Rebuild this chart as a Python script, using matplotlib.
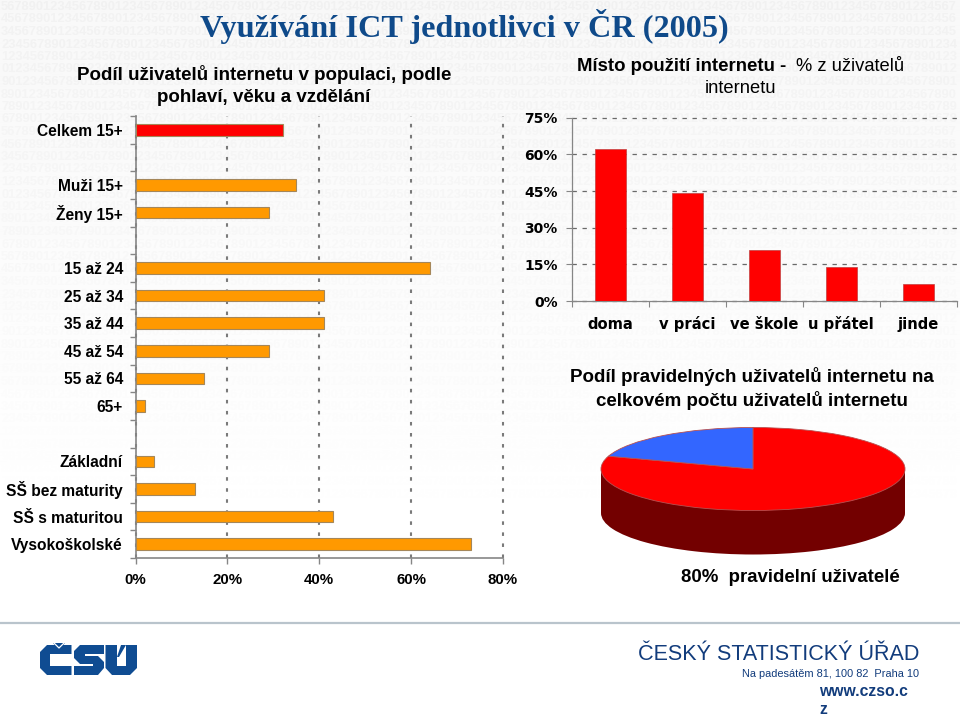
"""Využívání ICT jednotlivci v ČR (2005) - slide with two bars, one column chart and a 3D-looking pie."""
import numpy as np
import matplotlib
matplotlib.use("Agg")
import matplotlib.pyplot as plt
from matplotlib.patches import Polygon, Rectangle

W, H = 960, 717
SANS = "Liberation Sans"
SERIF = "Liberation Serif"
WIDE = "DejaVu Sans"
ORANGE = "#FF9900"
RED = "#FF0000"
DARK_RED = "#730000"
BLUE = "#3366FF"
NAVY = "#0F4A8A"
AXIS_GRAY = "#868686"

# blank labels are the empty rows between the groups
left_labels = ["Celkem 15+", "", "Muži 15+", "Ženy 15+", "", "15 až 24", "25 až 34", "35 až 44",
               "45 až 54", "55 až 64", "65+", "", "Základní", "SŠ bez maturity", "SŠ s maturitou",
               "Vysokoškolské"]
left_values = [32, np.nan, 35, 29, np.nan, 64, 41, 41, 29, 15, 2, np.nan, 4, 13, 43, 73]
left_ticks = [0, 20, 40, 60, 80]

place_labels = ["doma", "v práci", "ve škole", "u přátel", "jinde"]
place_values = [62, 44, 21, 14, 7]
place_ticks = [0, 15, 30, 45, 60, 75]

pie_values = [80, 20]


def px_axes(fig, x0, y0, x1, y1, **kw):
    """Axes from pixel box, y counted from the top like in the picture."""
    return fig.add_axes([x0 / W, 1 - y1 / H, (x1 - x0) / W, (y1 - y0) / H], **kw)


fig = plt.figure(figsize=(W / 100, H / 100), dpi=100, facecolor="white")

# full-slide layer in pixel coords for background, texts and logo
bg = px_axes(fig, 0, 0, W, H)
bg.axis("off")

shade = np.linspace(0.972, 1.0, 256).reshape(-1, 1)
bg.imshow(shade, extent=(0, W, 540, 0), cmap="gray", vmin=0, vmax=1, aspect="auto", zorder=0)
bg.set_xlim(0, W)
bg.set_ylim(H, 0)

digits = "1234567890" * 16
for i in range(42):
    y = 7 + i * 12.5
    start = (4 - i) % 10
    fade = max(0.0, 1 - y / 520)
    grey = 1 - 0.055 * fade
    bg.text(1, y, digits[start:start + 133], color=(grey, grey, grey), fontsize=9.3,
            family=SANS, fontweight="bold", va="center", ha="left", zorder=1)

# titles
bg.text(464, 26, "Využívání ICT jednotlivci v ČR (2005)", color=NAVY, family=SERIF,
        fontweight="bold", fontsize=23.2, ha="center", va="center", zorder=3)
bg.text(264, 74, "Podíl uživatelů internetu v populaci, podle", family=SANS, fontweight="bold",
        fontsize=13.5, ha="center", va="center", zorder=3)
bg.text(264, 97, "pohlaví, věku a vzdělání", family=SANS, fontweight="bold",
        fontsize=13.5, ha="center", va="center", zorder=3)
# first line is half bold, half regular
bg.text(577, 71, "Místo použití internetu -", family=SANS, fontweight="bold",
        fontsize=13.45, ha="left", va="baseline", zorder=3)
bg.text(904, 71, "% z uživatelů", family=SANS, fontsize=13.2, ha="right", va="baseline", zorder=3)
bg.text(740, 93, "internetu", family=SANS, fontsize=13.2, ha="center", va="baseline", zorder=3)
bg.text(751.5, 377, "Podíl pravidelných uživatelů internetu na", family=SANS, fontweight="bold",
        fontsize=13.5, ha="center", va="center", zorder=3)
bg.text(751.5, 400, "celkovém počtu uživatelů internetu", family=SANS, fontweight="bold",
        fontsize=13.5, ha="center", va="center", zorder=3)
bg.text(790.5, 577, "80%  pravidelní uživatelé", family=SANS, fontweight="bold",
        fontsize=13.4, ha="center", va="center", zorder=3)

# footer
bg.plot([0, W], [623, 623], color="#B9C4CC", lw=1.6, zorder=2)
bg.text(919, 654, "ČESKÝ STATISTICKÝ ÚŘAD", color="#123C7C", family=SANS, fontsize=15.5,
        ha="right", va="center", zorder=3)
bg.text(919, 674, "Na padesátěm 81, 100 82  Praha 10", color="#123C7C", family=SANS, fontsize=7.9,
        ha="right", va="center", zorder=3)
bg.text(819, 692, "www.czso.c", color="#123C7C", family=SANS, fontweight="bold", fontsize=11.3,
        ha="left", va="center", zorder=3)
bg.text(819, 709, "z", color="#123C7C", family=SANS, fontweight="bold", fontsize=11.3,
        ha="left", va="center", zorder=3)

# logo
logo_c = [(47, 645), (71.5, 645), (71.5, 654), (50, 654), (50, 666), (71.5, 666), (71.5, 675),
          (47, 675), (40, 668), (40, 652)]
logo_s = [(80, 645), (104, 645), (104, 654), (85, 654), (85, 656), (98, 656), (104, 662),
          (104, 668), (98, 675), (74, 675), (74, 666), (93, 666), (93, 664), (80, 664),
          (74, 658), (74, 651)]
logo_u = [(105.5, 645), (117, 645), (117, 666), (126, 666), (126, 645), (137, 645), (137, 668),
          (130, 675), (112, 675), (105.5, 668)]
logo_caron = [(53, 643), (65, 643), (59, 650)]
logo_acute = [(117, 657), (121, 645), (126, 645), (119, 657)]
for shape in (logo_c, logo_s, logo_u, logo_caron, logo_acute):
    bg.add_patch(Polygon(shape, closed=True, fc="#0F4C92", ec="none", zorder=3))
bg.plot([54, 59, 64], [643, 648, 643], color="white", lw=0.9, zorder=4)

# left bar chart
ax = px_axes(fig, 135.5, 116, 503, 558)
ax.patch.set_alpha(0)
rows = np.arange(len(left_labels)) + 0.5
bar_colors = [RED] + [ORANGE] * (len(left_values) - 1)
ax.barh(rows, left_values, height=0.42, color=bar_colors, edgecolor="#A5875A", linewidth=0.8, zorder=3)
ax.set_xlim(0, 80)
ax.set_ylim(len(left_labels), 0)
ax.set_xticks(left_ticks, [f"{t}%" for t in left_ticks], family=SANS, fontweight="bold", fontsize=10.8)
ax.set_yticks(rows, left_labels, family=SANS, fontweight="bold", fontsize=11.2)
ax.set_yticks(np.arange(len(left_labels) + 1), minor=True)
ax.tick_params(axis="y", which="major", length=0, pad=9)
ax.tick_params(axis="y", which="minor", length=4, color=AXIS_GRAY, width=1)
ax.tick_params(axis="x", which="major", length=4, color=AXIS_GRAY, width=1, pad=7)
ax.xaxis.grid(True, color="#7A7A7A", lw=1.5, ls=(0, (1.7, 3.6)), zorder=1, clip_on=False)
ax.set_axisbelow(True)
for side in ("top", "right"):
    ax.spines[side].set_visible(False)
for side in ("left", "bottom"):
    ax.spines[side].set_color(AXIS_GRAY)
    ax.spines[side].set_linewidth(1.2)

# place of use columns
ax2 = px_axes(fig, 571.7, 117.7, 956.7, 301)
ax2.patch.set_alpha(0)
cols = np.arange(len(place_labels)) + 0.5
ax2.bar(cols, place_values, width=0.4, color=RED, edgecolor="#C04040", linewidth=0.5, zorder=3)
ax2.set_xlim(0, len(place_labels))
ax2.set_ylim(0, 75)
ax2.set_yticks(place_ticks, [f"{t}%" for t in place_ticks], family=WIDE, fontweight="bold", fontsize=10)
ax2.set_xticks(cols, place_labels, family=WIDE, fontweight="bold", fontsize=10.6, va="baseline")
ax2.set_xticks(np.arange(len(place_labels) + 1), minor=True)
ax2.tick_params(axis="x", which="major", length=0, pad=20)
ax2.tick_params(axis="x", which="minor", length=4, color=AXIS_GRAY, width=0.8)
ax2.tick_params(axis="y", which="major", length=4, color=AXIS_GRAY, width=0.8, pad=6)
ax2.yaxis.grid(True, color="#6A6A6A", lw=0.9, ls=(0, (3.5, 4.5)), zorder=1, clip_on=False)
ax2.set_axisbelow(True)
for side in ("top", "right"):
    ax2.spines[side].set_visible(False)
for side in ("left", "bottom"):
    ax2.spines[side].set_color(AXIS_GRAY)
    ax2.spines[side].set_linewidth(0.9)

# pie squashed into an ellipse, with a dark side wall below
RX, RY, DEPTH = 152, 41.5, 44
ax3 = px_axes(fig, 753 - RX, 469 - RY, 753 + RX, 469 + RY + DEPTH)
d = DEPTH / RY
ax3.pie([1], radius=1, center=(0, -d), colors=[DARK_RED], wedgeprops={"linewidth": 0})
ax3.add_patch(Rectangle((-1, -d), 2, d, fc=DARK_RED, ec="none", zorder=1))
ax3.pie(pie_values, radius=1, colors=[RED, BLUE], startangle=90, counterclock=False,
        wedgeprops={"edgecolor": "#B85050", "linewidth": 0.6, "zorder": 2})
ax3.set_aspect("auto")
ax3.set_xlim(-1, 1)
ax3.set_ylim(-1 - d, 1)
ax3.patch.set_alpha(0)

fig.savefig("out.png", dpi=100, facecolor="white")
